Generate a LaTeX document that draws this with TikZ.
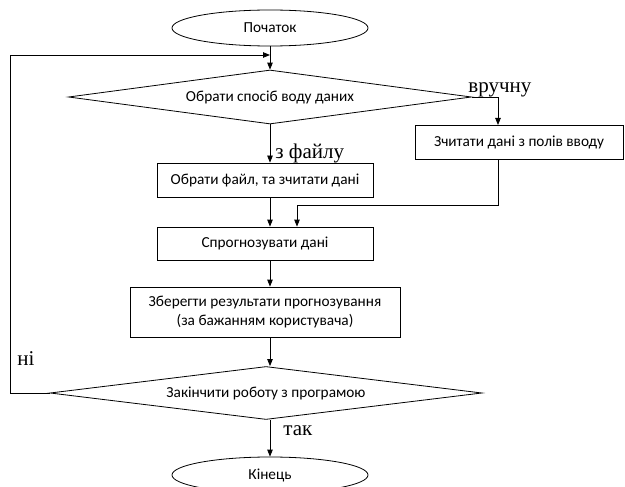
\documentclass[tikz,border=0pt]{standalone}
\usepackage{fontspec}
\setmainfont{Carlito}
\newfontfamily\labelfont{Liberation Serif}
\usetikzlibrary{shapes.geometric,arrows.meta}

\tikzset{
  block/.style={draw,rectangle,inner sep=0pt,align=center,font=\fontsize{15.3}{19.5}\selectfont},
  term/.style={draw,ellipse,inner sep=0pt,minimum width=196pt,minimum height=36pt,font=\fontsize{15.3}{19.5}\selectfont},
  decision/.style={draw,diamond,inner sep=0pt,aspect=7.5,font=\fontsize{15.3}{19.5}\selectfont},
  arr/.style={-{Triangle[length=7pt,width=5.5pt]}},
  lbl/.style={inner sep=0pt,anchor=base west,font=\labelfont\fontsize{21}{25}\selectfont}
}

\begin{document}
\begin{tikzpicture}[x=1pt,y=-1pt,line width=0.8pt]
\useasboundingbox (0,0) rectangle (625,487);

\node[term] (start) at (270,28) {Початок};
\node[decision,minimum width=403pt,minimum height=54pt] (choose) at (270,97) {Обрати спосіб воду даних};
\node[block,minimum width=208pt,minimum height=34pt] (manual) at (519,142) {Зчитати дані з полів вводу};
\node[block,minimum width=216pt,minimum height=34pt] (file) at (265,180) {Обрати файл, та зчитати дані};
\node[block,minimum width=216pt,minimum height=33pt] (forecast) at (265,243.5) {Спрогнозувати дані};
\node[block,minimum width=270pt,minimum height=50pt] (save) at (265,312) {Зберегти результати прогнозування\\(за бажанням користувача)};
\node[decision,minimum width=432pt,minimum height=53pt] (finish) at (266,393) {Закінчити роботу з програмою};
\node[term] (end) at (270,475) {Кінець};

\coordinate (loop) at (270,55);
\coordinate (manualIn) at (498,125);
\coordinate (join) at (297,205);

\draw[arr] (start) -- (choose);
\draw[arr] (choose.east) -| (manualIn);
\draw[arr] (choose.south) -- (choose.south |- file.north);
\draw[arr] (file.south -| start) -- (forecast.north -| start);
\draw[arr] (manual.south -| manualIn) |- (join) -- (join |- forecast.north);
\draw[arr] (forecast.south -| start) -- (save.north -| start);
\draw[arr] (save.south -| start) -- (finish.north -| start);
\draw[arr] (finish.south -| start) -- (end);
\draw[arr] (finish.west) -- ++(-39,0) |- (loop);

\node[lbl] (manualLbl) at (468,93) {вручну};
\node[lbl] (fileLbl) at (275,158) {з файлу};
\node[lbl] (noLbl) at (17,365) {ні};
\node[lbl] (yesLbl) at (283,435) {так};
\end{tikzpicture}
\end{document}
